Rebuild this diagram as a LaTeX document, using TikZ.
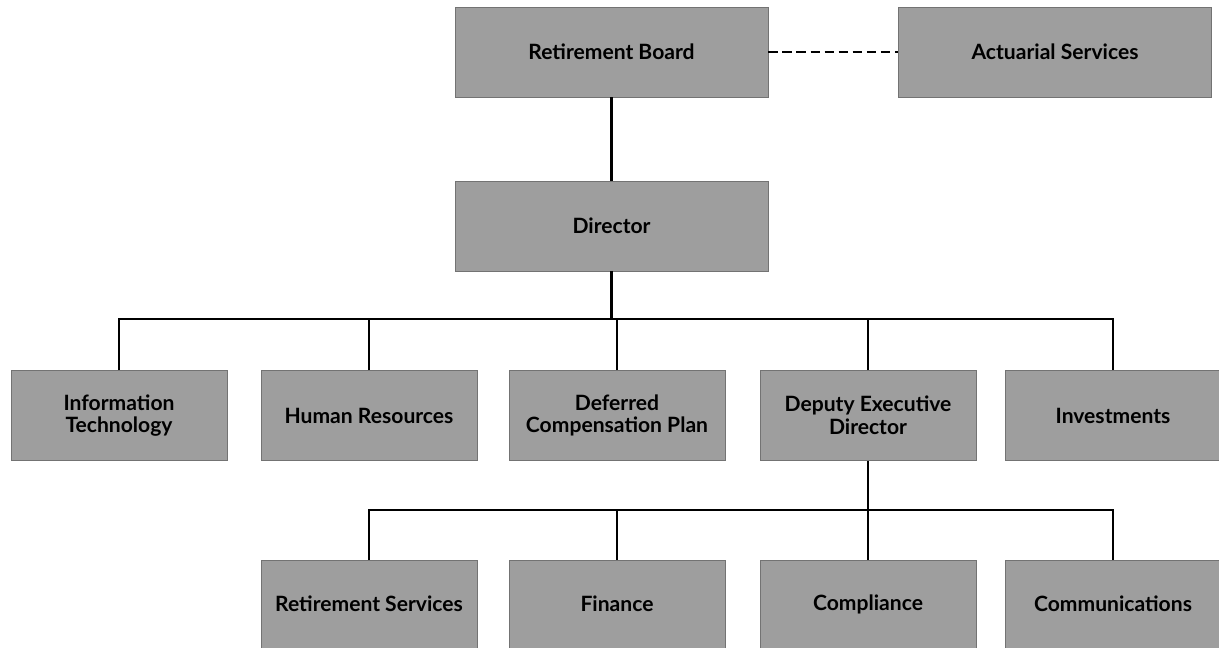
\documentclass[tikz,border=0pt]{standalone}
\usepackage{fontspec}
\setmainfont{Lato}
\usepackage{tikz}
\usetikzlibrary{positioning}

\begin{document}
\begin{tikzpicture}[every node/.style={font=\bfseries\fontsize{12}{13}\selectfont}]
\tikzset{unit/.style={rectangle, fill=black!38, draw=black!55, thin, minimum width=4.32cm, minimum height=1.8cm, align=center, inner sep=0},
         top/.style={unit, minimum width=6.26cm},
         link/.style={black, line width=1.2pt}}
\useasboundingbox (0,0) rectangle (24.38,-12.96);
% board level
\node[top] (board) at (12.23,-1.04) {Retirement Board};
\node[top] (actuary) at (21.10,-1.04) {Actuarial Services};
\draw[link, dash pattern=on 5.5pt off 2.5pt] (board) -- (actuary);
\node[top] (director) at (12.23,-4.52) {Director};
\draw[link] (board) -- (director);
% units reporting to the director
\node[unit] (it) at (2.38,-8.31) {Information\\Technology};
\node[unit] (hr) at (7.38,-8.31) {Human Resources};
\node[unit] (dcp) at (12.34,-8.31) {Deferred\\Compensation Plan};
\node[unit] (ded) at (17.36,-8.31) {Deputy Executive\\Director};
\node[unit] (inv) at (22.26,-8.31) {Investments};
\coordinate (bus) at (0,-6.38);
\draw[link] (director.south) -- (director.south |- bus);
\draw[link] (it.north) |- (inv.north |- bus) -- (inv.north);
\foreach \u in {hr,dcp,ded}
   \draw[link] (\u.north) -- (\u.north |- bus);
% units reporting to the deputy
\node[unit, minimum height=1.76cm] (rs) at (7.38,-12.08) {Retirement Services};
\node[unit, minimum height=1.76cm] (fin) at (12.34,-12.08) {Finance};
\node[unit, minimum height=1.76cm] (comp) at (17.36,-12.08) {Compliance};
\node[unit, minimum height=1.76cm] (comm) at (22.26,-12.08) {Communications};
\coordinate (bus2) at (0,-10.2);
\draw[link] (ded.south) -- (ded.south |- bus2);
\draw[link] (rs.north) |- (comm.north |- bus2) -- (comm.north);
\foreach \u in {fin,comp}
   \draw[link] (\u.north) -- (\u.north |- bus2);
\end{tikzpicture}
\end{document}
